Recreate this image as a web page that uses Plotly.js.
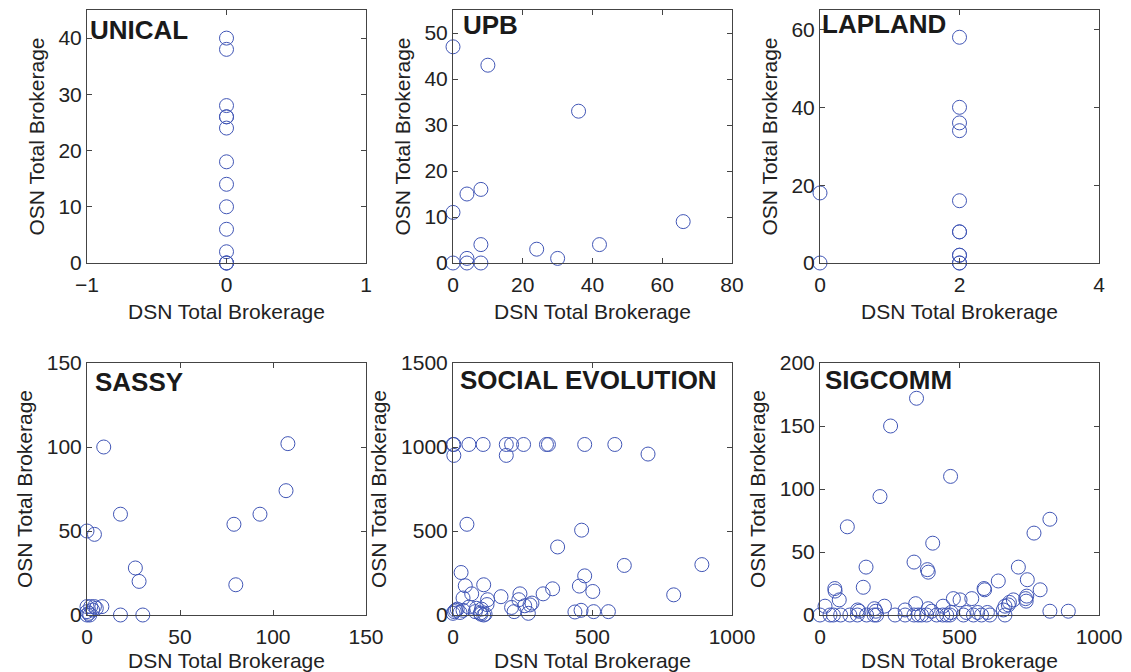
<!DOCTYPE html>
<html>
<head>
<meta charset="utf-8">
<script src="https://cdn.plot.ly/plotly-3.0.1.min.js"></script>
<style>
  html, body { margin: 0; padding: 0; background: #fff; }
  #chart { width: 1131px; height: 672px; }
</style>
</head>
<body>
<div id="chart"></div>
<script>
// ---------- data ----------
const panelNames = ["UNICAL", "UPB", "LAPLAND", "SASSY", "SOCIAL EVOLUTION", "SIGCOMM"];
const xTitle = "DSN Total Brokerage";
const yTitle = "OSN Total Brokerage";

const unicalX = [0, 0, 0, 0, 0, 0, 0, 0, 0, 0, 0, 0, 0, 0];
const unicalY = [40, 38, 28, 26, 26, 24, 18, 14, 10, 6, 2, 0, 0, 0];

const upbX = [0, 10, 36, 4, 8, 0, 66, 8, 24, 42, 30, 4, 0, 4, 8];
const upbY = [47, 43, 33, 15, 16, 11, 9, 4, 3, 4, 1, 1, 0, 0, 0];

const laplandX = [2, 2, 2, 2, 2, 2, 2, 2, 2, 2, 2, 0, 0];
const laplandY = [58, 40, 36, 34, 16, 8, 8, 2, 2, 0, 0, 18, 0];

const sassyX = [9, 108, 107, 93, 18, 79, 0, 4, 26, 28, 80, 8, 18, 30, 0, 2, 4, 0, 3, 0, 1.5, 5, 1];
const sassyY = [100, 102, 74, 60, 60, 54, 50, 48, 28, 20, 18, 5, 0, 0, 5, 5, 5, 2, 3, 0, 0, 4, 1];

const socialX = [0, 3, 3, 57, 108, 191, 210, 253, 335, 342, 472, 580, 191, 699,
                 50, 461, 375, 614, 892, 29, 472, 110, 44, 453, 501, 357, 323, 791, 67, 172, 240,
                 124, 36, 283, 236, 257, 210, 122, 57, 102, 9, 84, 98, 115, 36, 0, 219, 270, 276,
                 437, 459, 504, 557, 5, 15, 80, 100, 110, 25];
const socialY = [1015, 1015, 950, 1015, 1015, 1015, 1015, 1015, 1015, 1015, 1015, 1015, 950, 958,
                 540, 505, 405, 295, 300, 253, 233, 180, 174, 172, 140, 156, 126, 120, 126, 109, 126,
                 91, 101, 71, 91, 55, 45, 62, 47, 35, 28, 40, 12, 5, 28, 10, 20, 10, 60,
                 18, 28, 20, 20, 20, 35, 20, 5, 0, 15];

const sigcommX = [346, 253, 468, 215, 98, 824, 767, 404, 337, 385, 388, 165, 711, 155, 53, 54, 69,
                  639, 588, 590, 743, 789, 737, 741, 739, 693, 679, 663, 657, 478, 502, 544, 343,
                  231, 18, 824, 890,
                  140, 195, 200, 305, 388, 400, 441, 470, 525, 565, 600, 135, 675,
                  0, 36, 48, 74, 107, 134, 167, 194, 203, 269, 305, 337, 352, 364, 382, 418, 440,
                  454, 466, 514, 550, 579, 609, 663];
const sigcommY = [172, 150, 110, 94, 70, 76, 65, 57, 42, 36, 34, 38, 38, 22, 21, 19, 12,
                  27, 21, 20, 28, 20, 13, 15, 11, 12, 10, 7, 4, 13, 12, 13, 9,
                  7, 7, 3, 3,
                  3, 5, 3, 4, 5, 3, 7, 2, 2, 2, 2, 4, 8,
                  0, 0, 0, 0, 0, 0, 0, 0, 0, 0, 0, 0, 0, 0, 0, 0, 0,
                  0, 0, 0, 0, 0, 0, 0];

const xRanges = [[-1, 1], [0, 80], [0, 4], [0, 150], [0, 1000], [0, 1000]];
const yRanges = [[0, 45], [0, 55], [0, 65], [0, 150], [0, 1500], [0, 200]];
const xDticks = [1, 20, 2, 50, 500, 500];
const yDticks = [10, 10, 20, 50, 500, 50];

// ---------- layout geometry (pixels) ----------
const W = 1131, H = 672;
const colPx = [[87, 366], [453, 732], [820, 1099]];
const rowPx = [[10, 263], [363, 615]];
// [xshift, yshift] for the panel name labels
const labelShifts = [[1, -3], [8, 2], [0, 3], [6, -2], [5, 0], [3, 0]];

const series = [[unicalX, unicalY], [upbX, upbY], [laplandX, laplandY],
                [sassyX, sassyY], [socialX, socialY], [sigcommX, sigcommY]];

const markerColor = "#4156b6";
const font = "Liberation Sans, Arial, Helvetica, sans-serif";

const traces = [];
const layout = {
  width: W, height: H,
  margin: {l: 0, r: 0, t: 0, b: 0},
  paper_bgcolor: "#ffffff",
  plot_bgcolor: "#ffffff",
  showlegend: false,
  font: {family: font, color: "#222"},
  annotations: []
};

for (let i = 0; i < 6; i++) {
  const col = i % 3, row = Math.floor(i / 3);
  const xid = i === 0 ? "x" : "x" + (i + 1);
  const yid = i === 0 ? "y" : "y" + (i + 1);
  const xkey = i === 0 ? "xaxis" : "xaxis" + (i + 1);
  const ykey = i === 0 ? "yaxis" : "yaxis" + (i + 1);

  traces.push({
    type: "scatter", mode: "markers",
    x: series[i][0], y: series[i][1],
    xaxis: xid, yaxis: yid,
    cliponaxis: false,
    marker: {symbol: "circle-open", size: 14, color: markerColor, line: {width: 1, color: markerColor}},
    hoverinfo: "x+y"
  });

  const common = {
    showline: true, linecolor: "#444", linewidth: 1, mirror: "ticks",
    ticks: "inside", ticklen: 5, tickwidth: 1, tickcolor: "#444",
    showgrid: false, zeroline: false, fixedrange: true,
    tickfont: {family: font, size: 21, color: "#222"}
  };

  layout[xkey] = Object.assign({}, common, {
    domain: [colPx[col][0] / W, colPx[col][1] / W],
    anchor: yid,
    range: xRanges[i], tick0: 0, dtick: xDticks[i],
    ticklabelstandoff: 3,
    title: {text: xTitle, font: {family: font, size: 21, color: "#222"}, standoff: 9}
  });
  layout[ykey] = Object.assign({}, common, {
    domain: [1 - rowPx[row][1] / H, 1 - rowPx[row][0] / H],
    anchor: xid,
    range: yRanges[i], tick0: 0, dtick: yDticks[i],
    title: {text: yTitle, font: {family: font, size: 21, color: "#222"}, standoff: 8}
  });

  layout.annotations.push({
    text: "<b>" + panelNames[i] + "</b>",
    xref: xid + " domain", yref: yid + " domain",
    x: 0, y: 1, xanchor: "left", yanchor: "top",
    xshift: labelShifts[i][0], yshift: labelShifts[i][1],
    showarrow: false,
    font: {family: font, size: 26, color: "#1a1a1a"}
  });
}

Plotly.newPlot("chart", traces, layout, {displayModeBar: false, staticPlot: true});
</script>
</body>
</html>
